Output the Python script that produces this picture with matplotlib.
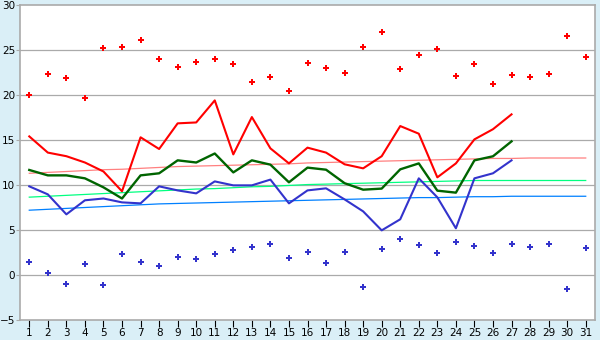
import matplotlib
matplotlib.use("Agg")
import matplotlib.pyplot as plt

# dias del mes
days = list(range(1, 32))
days_obs = list(range(1, 28))

# maximas y minimas absolutas (marcadores)
abs_max = [20.0, 22.3, 21.85, 19.7, 25.2, 25.3, 26.1, 24.0, 23.1, 23.7,
           24.0, 23.5, 21.5, 22.0, 20.5, 23.6, 23.0, 22.5, 25.3, 27.0,
           22.85, 24.5, 25.1, 22.1, 23.5, 21.2, 22.2, 21.95, 22.3, 26.6, 24.2]
abs_min = [1.4, 0.2, -1.0, 1.2, -1.15, 2.3, 1.5, 0.96, 1.96, 1.74,
           2.3, 2.74, 3.07, 3.5, 1.85, 2.6, 1.3, 2.6, -1.37, 2.85,
           3.96, 3.3, 2.5, 3.63, 3.19, 2.5, 3.5, 3.07, 3.4, -1.6, 2.96]

# series diarias observadas
t_max = [15.4, 13.6, 13.2, 12.5, 11.5, 9.3, 15.3, 14.0, 16.85, 16.95,
         19.4, 13.4, 17.55, 14.07, 12.4, 14.15, 13.6, 12.3, 11.85, 13.2,
         16.55, 15.7, 10.85, 12.4, 15.07, 16.2, 17.85]
t_med = [11.67, 11.07, 11.07, 10.74, 9.74, 8.5, 11.07, 11.3, 12.74, 12.5,
         13.5, 11.4, 12.74, 12.26, 10.3, 11.93, 11.7, 10.2, 9.48, 9.6,
         11.74, 12.4, 9.37, 9.15, 12.74, 13.19, 14.85]
t_min = [9.85, 8.96, 6.74, 8.3, 8.5, 8.07, 7.96, 9.85, 9.4, 9.07,
         10.4, 9.96, 9.96, 10.6, 7.96, 9.4, 9.63, 8.4, 7.07, 4.96,
         6.19, 10.74, 8.63, 5.19, 10.74, 11.3, 12.74]

# valores normales (lineas finas)
norm_max = [11.3, 11.4, 11.5, 11.6, 11.7, 11.75, 11.85, 11.95, 12.05, 12.1,
            12.15, 12.2, 12.25, 12.3, 12.35, 12.45, 12.5, 12.55, 12.6, 12.65,
            12.7, 12.75, 12.8, 12.85, 12.9, 12.95, 12.95, 13.0, 13.0, 13.0, 13.0]
norm_med = [8.65, 8.75, 8.85, 8.95, 9.05, 9.15, 9.25, 9.35, 9.45, 9.55,
            9.6, 9.7, 9.8, 9.85, 9.95, 10.05, 10.1, 10.15, 10.2, 10.25,
            10.3, 10.35, 10.4, 10.45, 10.5, 10.5, 10.5, 10.5, 10.5, 10.5, 10.5]
norm_min = [7.2, 7.3, 7.4, 7.5, 7.6, 7.7, 7.8, 7.9, 7.95, 8.0,
            8.05, 8.1, 8.15, 8.2, 8.25, 8.3, 8.35, 8.4, 8.45, 8.5,
            8.55, 8.6, 8.6, 8.65, 8.7, 8.7, 8.75, 8.75, 8.75, 8.75, 8.75]

y_ticks = [-5, 0, 5, 10, 15, 20, 25, 30]

plt.rcParams["font.family"] = ["DejaVu Sans"]

fig = plt.figure(figsize=(6.0, 3.4), dpi=100, facecolor="#daeff7")
ax = fig.add_axes([20 / 600, 20 / 340, 575 / 600, 315 / 340])
ax.set_facecolor("white")

for y in y_ticks[1:-1]:
    ax.axhline(y, color="#aaaaaa", lw=0.9, zorder=0)

ax.plot(days, norm_max, color="#ff8080", lw=0.9, zorder=1)
ax.plot(days, norm_med, color="#00ff80", lw=0.9, zorder=1)
ax.plot(days, norm_min, color="#0080ff", lw=0.9, zorder=1)

ax.plot(days_obs, t_max, color="#ff0000", lw=1.5, zorder=2)
ax.plot(days_obs, t_med, color="#006400", lw=1.7, zorder=2)
ax.plot(days_obs, t_min, color="#3333cc", lw=1.5, zorder=2)

ax.plot(days, abs_max, ls="none", marker="P", ms=5, color="#ff0000", mew=0, zorder=3)
ax.plot(days, abs_min, ls="none", marker="P", ms=5, color="#3333cc", mew=0, zorder=3)

ax.set_xlim(0.5, 31.5)
ax.set_ylim(-5, 30)
ax.set_xticks(days)
ax.set_yticks(y_ticks)
ax.tick_params(axis="x", length=5, width=0.8, color="black", labelsize=7.5, pad=1)
ax.tick_params(axis="y", length=3, width=0.8, color="#aaaaaa", labelsize=7.5, pad=0.5,
               labelcolor="black")
for s in ax.spines.values():
    s.set_color("#aaaaaa")
    s.set_linewidth(1.2)

fig.savefig("out.png", dpi=100, facecolor=fig.get_facecolor())
